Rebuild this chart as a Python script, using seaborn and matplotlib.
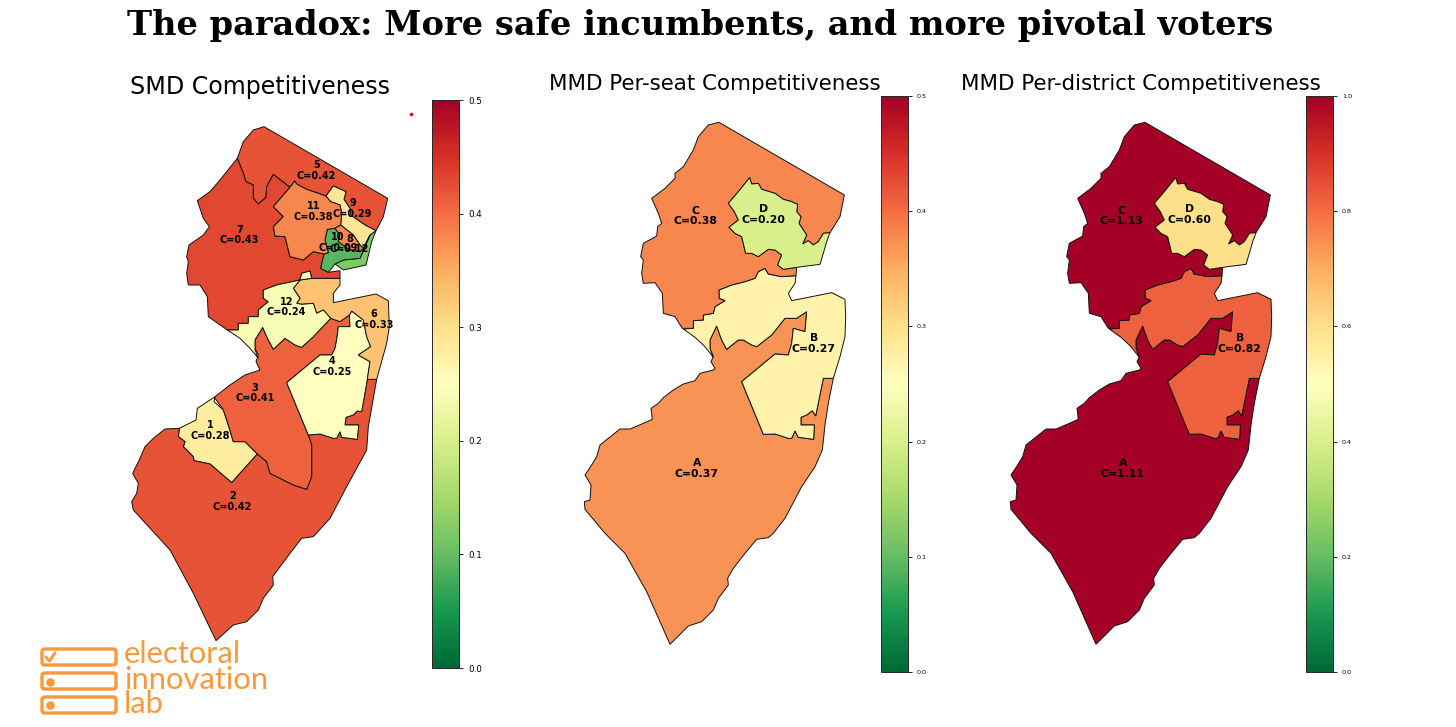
import seaborn as sns
import matplotlib.pyplot as plt
from matplotlib.cm import ScalarMappable
from matplotlib.colors import Normalize
from matplotlib.patches import FancyBboxPatch

W, H = 1456, 727

# district outlines in map units
D1 = [(285,860),(282,875),(310,900),(325,945),(340,995),(375,995),(412,1032),(335,1118),(270,1062),(222,1052),(220,1040),(190,1010),(195,995),(175,980),(178,955),(228,930),(232,895)]
D2 = [(178,955),(135,957),(100,985),(75,1010),(60,1045),(38,1090),(55,1120),(50,1150),(35,1175),(40,1200),(150,1320),(220,1450),(288,1592),(340,1545),(380,1535),(415,1500),(430,1465),(460,1425),(458,1400),(510,1330),(545,1285),(580,1280),(630,1225),(680,1130),(740,1020),(745,950),(770,808),(742,808),(725,905),(712,903),(700,915),(678,922),(675,945),(716,945),(712,988),(665,982),(660,965),(650,985),(640,985),(600,972),(565,975),(575,1005),(575,1100),(560,1138),(520,1125),(450,1090),(440,1055),(412,1032),(335,1118),(270,1062),(222,1052),(220,1040),(190,1010),(195,995),(175,980)]
D3 = [(428,652),(440,680),(460,718),(495,685),(525,705),(545,712),(580,680),(632,625),(660,635),(688,615),(690,650),(655,650),(650,690),(645,715),(635,735),(600,735),(500,818),(565,975),(575,1005),(575,1100),(560,1138),(520,1125),(450,1090),(440,1055),(412,1032),(375,995),(340,995),(325,945),(310,900),(285,865),(285,860),(330,825),(375,795),(420,780),(408,755),(415,735),(405,715),(405,690)]
D4 = [(695,603),(730,630),(740,680),(752,710),(715,735),(750,755),(742,808),(725,905),(712,903),(700,915),(678,922),(675,945),(716,945),(712,988),(665,982),(660,965),(650,985),(640,985),(600,972),(565,975),(500,818),(600,735),(635,735),(645,715),(650,690),(655,650),(690,650),(688,615)]
D5 = [(432,50),(803,265),(790,320),(768,362),(735,345),(692,315),(690,295),(672,268),(678,245),(640,228),(618,258),(560,238),(530,222),(524,213),(510,232),(460,193),(440,230),(438,262),(415,282),(400,265),(400,225),(378,215),(370,190),(352,145),(370,95),(400,60)]
D6 = [(575,505),(660,505),(660,525),(640,550),(640,578),(768,552),(805,572),(808,650),(800,700),(770,808),(742,808),(750,755),(715,735),(752,710),(740,680),(730,630),(695,603),(688,615),(660,635),(632,625),(610,600),(590,610),(580,580),(545,583),(530,580),(540,565),(520,535),(540,510)]
D7 = [(352,145),(370,190),(378,215),(400,225),(400,265),(415,282),(438,262),(440,230),(460,193),(510,232),(460,290),(490,320),(460,350),(465,378),(495,380),(510,440),(550,450),(580,425),(612,432),(602,475),(625,487),(660,482),(660,505),(575,505),(570,483),(545,490),(540,510),(470,525),(430,540),(430,565),(445,575),(415,600),(415,620),(385,620),(385,640),(355,640),(355,660),(322,660),(265,620),(262,560),(240,525),(205,525),(200,490),(205,455),(200,440),(207,405),(250,375),(268,350),(250,325),(232,272),(270,245),(300,210)]
D8 = [(645,462),(670,450),(720,445),(750,375),(768,362),(755,395),(738,465),(670,480)]
D9 = [(640,228),(678,245),(672,268),(690,295),(692,315),(735,345),(768,362),(750,375),(730,415),(720,405),(700,375),(662,345),(665,310),(660,285),(632,275),(618,258)]
D10 = [(622,358),(645,355),(660,375),(655,395),(690,420),(720,425),(730,415),(750,375),(720,445),(670,450),(645,462),(625,487),(602,475),(612,432),(625,428),(615,390)]
D11 = [(524,213),(530,222),(560,238),(618,258),(632,275),(660,285),(665,310),(662,345),(645,355),(622,358),(615,390),(625,428),(612,432),(580,425),(550,450),(510,440),(495,380),(465,378),(460,350),(490,320),(460,290),(510,232)]
D11B = [(645,355),(662,345),(700,375),(720,405),(730,415),(720,425),(690,420),(655,395),(660,375)]
D12 = [(430,540),(470,525),(540,510),(520,535),(540,565),(530,580),(545,583),(580,580),(590,610),(610,600),(632,625),(580,680),(545,712),(525,705),(495,685),(460,718),(440,680),(428,652),(405,690),(405,720),(415,745),(390,715),(360,685),(322,660),(355,660),(355,640),(385,640),(385,620),(415,620),(415,600),(445,575),(430,565)]
D12B = [(540,510),(545,490),(570,483),(575,505)]

A = [(425,648),(440,690),(455,718),(490,690),(505,690),(530,705),(545,710),(590,675),(630,625),(665,625),(695,605),(690,665),(655,655),(650,700),(640,735),(600,732),(500,815),(565,973),(600,972),(640,985),(650,985),(660,963),(670,982),(716,988),(718,945),(678,945),(678,922),(695,915),(712,902),(722,918),(745,805),(775,805),(760,880),(750,945),(742,1020),(720,1070),(680,1130),(630,1225),(595,1270),(580,1283),(545,1288),(510,1330),(475,1375),(458,1405),(460,1425),(430,1465),(415,1500),(380,1535),(340,1548),(285,1603),(215,1445),(150,1330),(90,1270),(30,1198),(28,1175),(45,1170),(48,1125),(30,1095),(50,1065),(65,1040),(75,1005),(100,985),(135,957),(165,957),(205,940),(232,928),(228,895),(250,880),(265,863),(295,840),(325,822),(360,812),(375,790),(415,780),(420,775),(408,755),(415,740),(405,715),(405,690)]
B = [(663,497),(660,520),(640,550),(650,572),(770,548),(810,568),(812,620),(810,680),(795,740),(775,805),(745,805),(722,918),(712,902),(695,915),(678,922),(678,945),(718,945),(716,988),(670,982),(660,963),(650,985),(640,985),(600,972),(565,973),(500,815),(600,732),(640,735),(650,700),(655,655),(690,665),(695,605),(665,625),(630,625),(590,675),(545,710),(530,705),(505,690),(490,690),(455,718),(440,690),(425,648),(405,690),(405,715),(415,742),(390,710),(360,682),(325,657),(355,655),(355,632),(385,630),(385,615),(415,610),(420,590),(450,572),(432,565),(432,540),(470,525),(510,515),(540,505),(550,485),(570,475),(580,492),(620,500)]
C = [(432,37),(808,255),(795,320),(765,368),(745,370),(730,395),(715,405),(700,392),(683,402),(695,375),(672,340),(678,320),(665,305),(668,283),(650,275),(625,268),(600,250),(560,238),(550,220),(530,222),(524,203),(490,245),(460,280),(478,305),(490,330),(462,352),(480,370),(500,380),(512,430),(530,430),(550,440),(580,418),(600,420),(620,435),(608,465),(625,478),(665,472),(663,497),(620,500),(580,492),(570,475),(550,485),(540,505),(510,515),(470,525),(432,540),(432,565),(450,572),(420,590),(415,610),(385,615),(385,630),(355,632),(355,655),(322,655),(300,620),(265,610),(262,550),(240,518),(205,520),(200,490),(205,450),(197,440),(205,400),(245,378),(248,350),(260,340),(250,310),(230,265),(270,235),(300,205),(300,190),(325,170),(355,120),(370,80),(400,45)]
D = [(524,203),(530,222),(550,220),(560,238),(600,250),(625,268),(650,275),(668,283),(665,305),(678,320),(672,340),(695,375),(683,402),(700,392),(715,405),(730,395),(745,370),(765,368),(755,395),(745,430),(735,463),(680,470),(625,478),(608,465),(620,435),(600,420),(580,418),(550,440),(530,430),(512,430),(500,380),(480,370),(462,352),(490,330),(478,305),(460,280),(490,245)]

smd_shapes = [D1, D2, D3, D4, D5, D6, D7, D8, D9, D10, D11, D12, D11B, D12B]
smd_values = [0.28, 0.42, 0.41, 0.25, 0.42, 0.33, 0.43, 0.12, 0.29, 0.09, 0.38, 0.24, 0.38, 0.24]
smd_labels = ['1', '2', '3', '4', '5', '6', '7', '8', '9', '10', '11', '12']
smd_label_x = [270, 338, 405, 637, 590, 762, 358, 688, 698, 654, 580, 500]
smd_label_y = [962, 1174, 849, 769, 182, 628, 375, 402, 295, 397, 305, 591]

mmd_shapes = [A, B, C, D]
mmd_labels = ['A', 'B', 'C', 'D']
mmd_label_x = [365, 716, 362, 566]
mmd_label_y = [1076, 700, 318, 313]
per_seat = [0.37, 0.27, 0.38, 0.20]
per_district = [1.11, 0.82, 1.13, 0.60]

seat_ticks = [0.0, 0.1, 0.2, 0.3, 0.4, 0.5]
district_ticks = [0.0, 0.2, 0.4, 0.6, 0.8, 1.0]

ORANGE = '#f79a3e'

sns.set_style('white')
plt.rcParams['text.color'] = 'black'
plt.rcParams['ytick.labelcolor'] = 'black'
cmap = sns.color_palette('RdYlGn_r', as_cmap=True)

fig = plt.figure(figsize=(W / 100, H / 100), dpi=100)


def px_axes(left, top, width, height):
    return fig.add_axes([left / W, 1 - (top + height) / H, width / W, height / H])


# draw one map plus its colorbar
def draw_map(left, shapes, values, names, xs, ys, vmax, ticks, label_size, bar_box, tick_size):
    ax = px_axes(left, 110, 290, 540)
    norm = Normalize(0, vmax)
    for shape, value in zip(shapes, values):
        px, py = zip(*shape)
        ax.fill(px, py, facecolor=cmap(norm(value)), edgecolor='#111111', linewidth=0.7)
    for name, value, x, y in zip(names, values, xs, ys):
        ax.text(x, y, f'{name}\nC={value:.2f}', ha='center', va='center',
                fontsize=label_size, fontweight='bold', color='black', linespacing=1.1)
    ax.set_xlim(0, 870)
    ax.set_ylim(1620, 0)
    ax.axis('off')

    cax = px_axes(*bar_box)
    bar = fig.colorbar(ScalarMappable(norm=norm, cmap=cmap), cax=cax)
    bar.set_ticks(ticks)
    bar.ax.tick_params(labelsize=tick_size, length=3, width=0.7, color='#222222')
    bar.outline.set_linewidth(0.7)


draw_map(120, smd_shapes, smd_values, smd_labels, smd_label_x, smd_label_y,
         0.5, seat_ticks, 7, (432, 100, 27, 568), 6.3)
draw_map(575, mmd_shapes, per_seat, mmd_labels, mmd_label_x, mmd_label_y,
         0.5, seat_ticks, 7.8, (881, 96, 27, 576), 4.6)
draw_map(1001, mmd_shapes, per_district, mmd_labels, mmd_label_x, mmd_label_y,
         1.0, district_ticks, 7.8, (1306, 96, 27, 576), 4.6)

# full-figure layer for titles and the logo, in pixels
top = fig.add_axes([0, 0, 1, 1], zorder=5)
top.set_xlim(0, W)
top.set_ylim(H, 0)
top.axis('off')
top.patch.set_alpha(0)

top.text(700, 26, 'The paradox: More safe incumbents, and more pivotal voters',
         ha='center', va='center', fontsize=24.2, fontweight='bold',
         family='DejaVu Serif', color='black')
top.text(260, 87, 'SMD Competitiveness', ha='center', va='center', fontsize=17.1)
top.text(715, 84, 'MMD Per-seat Competitiveness', ha='center', va='center', fontsize=15.4)
top.text(1141, 84, 'MMD Per-district Competitiveness', ha='center', va='center', fontsize=15.4)
top.scatter([410.5], [114], s=7, color='#e0101a', linewidths=0)

for y in [649, 673, 697]:
    top.add_patch(FancyBboxPatch((42, y), 74, 16, boxstyle='round,pad=0,rounding_size=2.5',
                                 facecolor='white', edgecolor=ORANGE, linewidth=2.4))
top.plot([46, 49.5, 55], [657, 661, 653], color=ORANGE, linewidth=2.2)
top.scatter([50, 50], [682, 705], s=38, color=ORANGE, linewidths=0)
for word, y in zip(['electoral', 'innovation', 'lab'], [663, 689, 713]):
    top.text(124, y, word, ha='left', va='baseline', fontsize=22.3, family='Lato',
             color=ORANGE)

fig.savefig('out.png', dpi=100, facecolor='white')
